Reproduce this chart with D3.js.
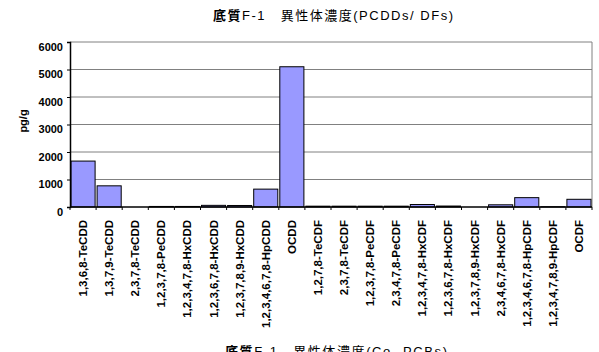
<!DOCTYPE html>
<html><head><meta charset="utf-8">
<script src="https://cdn.jsdelivr.net/npm/d3@7"></script>
<style>body{margin:0;background:#fff}svg{display:block}</style>
</head><body>
<script>
const categories = ["1,3,6,8-TeCDD","1,3,7,9-TeCDD","2,3,7,8-TeCDD","1,2,3,7,8-PeCDD","1,2,3,4,7,8-HxCDD","1,2,3,6,7,8-HxCDD","1,2,3,7,8,9-HxCDD","1,2,3,4,6,7,8-HpCDD","OCDD","1,2,7,8-TeCDF","2,3,7,8-TeCDF","1,2,3,7,8-PeCDF","2,3,4,7,8-PeCDF","1,2,3,4,7,8-HxCDF","1,2,3,6,7,8-HxCDF","1,2,3,7,8,9-HxCDF","2,3,4,6,7,8-HxCDF","1,2,3,4,6,7,8-HpCDF","1,2,3,4,7,8,9-HpCDF","OCDF"];
const values = [1670, 770, 0, 20, 20, 60, 55, 650, 5100, 30, 30, 30, 30, 90, 35, 0, 80, 340, 10, 280];
const yTicks = [0,1000,2000,3000,4000,5000,6000];
const titleBold = "底質";
const titleRest = "F-1　異性体濃度(PCDDs/ DFs)";
const nextTitleBold = "底質";
const nextTitleRest = "F-1　異性体濃度(Co- PCBs)";
const yLabel = "pg/g";

const W=599,H=352, L=70, R=592, T=42, B=207;
const FONT="'Liberation Sans', Arial, 'Noto Sans CJK JP', sans-serif";
const svg=d3.select("body").append("svg").attr("width",W).attr("height",H)
  .style("font-family",FONT);
const xb=d3.scaleLinear().domain([0,categories.length]).range([L,R]);
const y=d3.scaleLinear().domain([0,6000]).range([B,T]);

// gridlines
svg.append("g").selectAll("line").data(yTicks.filter(d=>d>0)).join("line")
  .attr("x1",L).attr("x2",R).attr("y1",d=>y(d)).attr("y2",d=>y(d))
  .attr("stroke","#808080").attr("stroke-width",1);
// right border
svg.append("line").attr("x1",R).attr("x2",R).attr("y1",T).attr("y2",B).attr("stroke","#808080");

// bars
svg.append("g").selectAll("rect").data(values).join("rect")
  .attr("x",(d,i)=>xb(i)+1).attr("width",(xb(1)-xb(0))-2)
  .attr("y",d=>y(d)).attr("height",d=>B-y(d))
  .attr("fill","#9999FF").attr("stroke","#000").attr("stroke-width",1);

// y axis
const ya=svg.append("g").attr("transform",`translate(${L},0)`)
  .call(d3.axisLeft(y).tickValues(yTicks).tickSize(3).tickPadding(4).tickFormat(d3.format("d")));
ya.select(".domain").attr("stroke","#000").attr("stroke-width",1.5);
ya.selectAll("text").attr("font-size","11px").attr("font-weight","bold").attr("fill","#000")
  .attr("font-family",FONT).attr("dy","0.75em");

// x axis
svg.append("line").attr("x1",L).attr("x2",R).attr("y1",B).attr("y2",B).attr("stroke","#000").attr("stroke-width",1.5);
svg.append("g").selectAll("line").data(d3.range(categories.length+1)).join("line")
  .attr("x1",d=>xb(d)).attr("x2",d=>xb(d)).attr("y1",B).attr("y2",B+3).attr("stroke","#000");
svg.append("g").selectAll("text").data(categories).join("text")
  .attr("transform",(d,i)=>`translate(${xb(i+0.5)+4},220) rotate(-90)`)
  .attr("text-anchor","end").attr("font-size","11.5px").attr("font-weight","bold").text(d=>d);

// y label
svg.append("text").attr("transform","translate(27,121) rotate(-90)").attr("text-anchor","middle")
  .attr("font-size","11px").attr("font-weight","bold").text(yLabel);

// title
function addTitle(xPos, yPos, b, r, len){
  const t=svg.append("text").attr("x",xPos).attr("y",yPos).attr("font-size","13px")
    .attr("text-anchor","start").attr("textLength",len).attr("lengthAdjust","spacing");
  t.append("tspan").attr("font-weight","bold").text(b);
  t.append("tspan").text(r);
}
addTitle(213, 20, titleBold, titleRest, 240);
addTitle(225, 356, nextTitleBold, nextTitleRest, 222);
</script>
</body></html>
